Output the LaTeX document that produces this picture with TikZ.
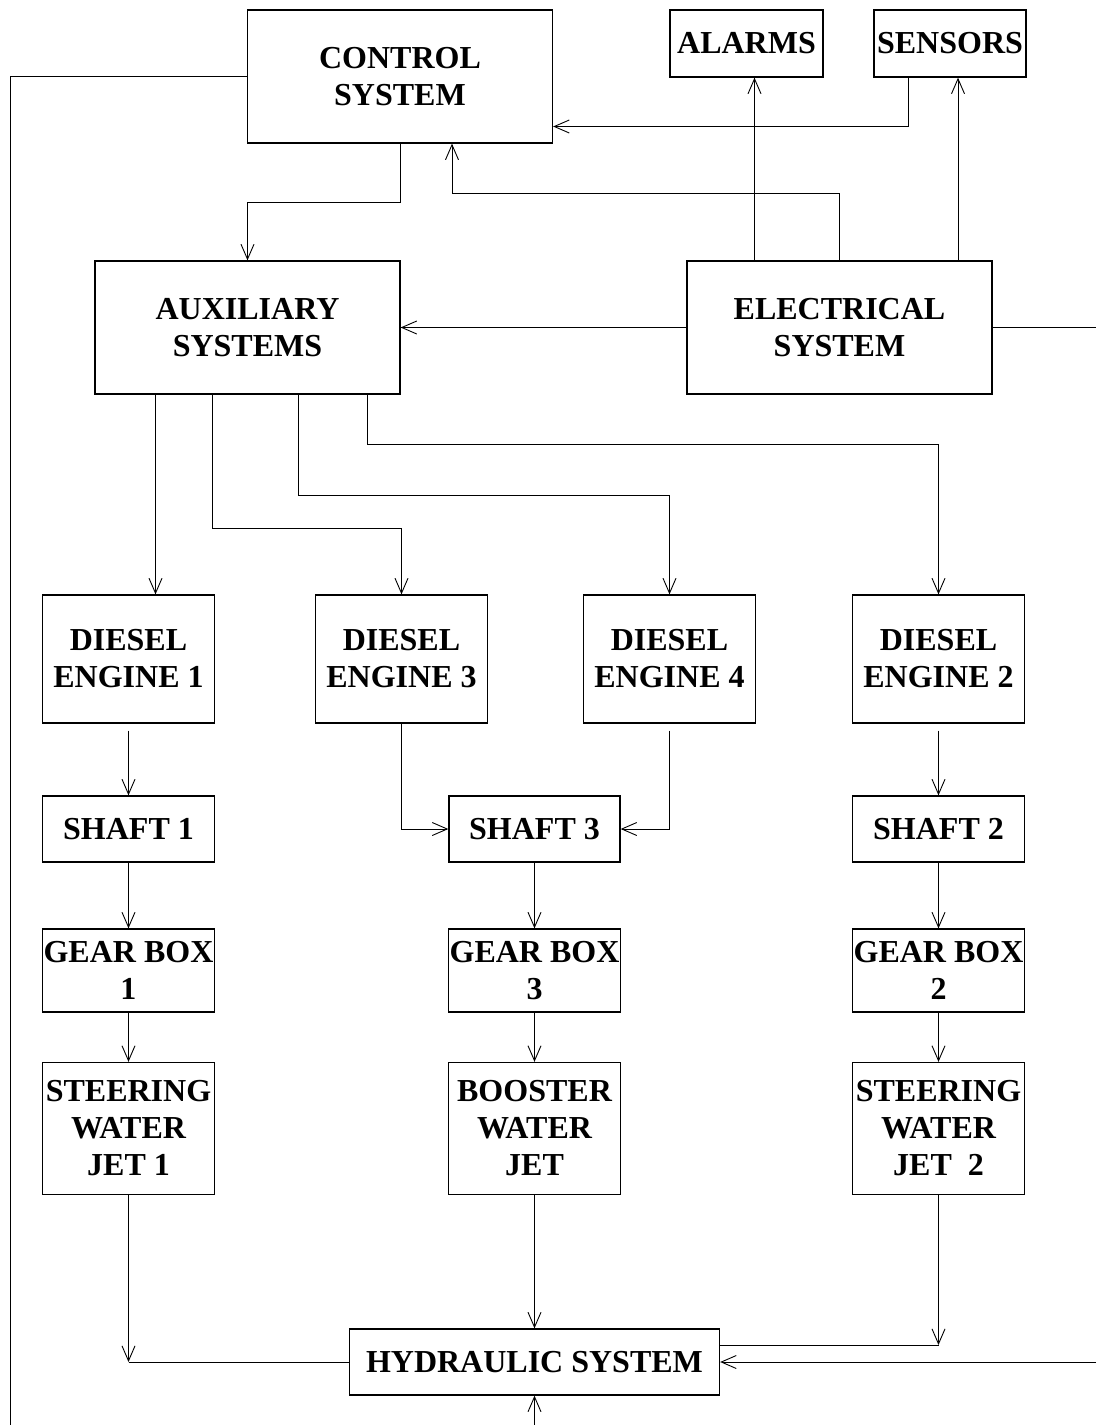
\documentclass[tikz,border=0pt]{standalone}
\usepackage{fontspec}
\setmainfont{Liberation Serif}
\usetikzlibrary{arrows.meta, positioning, calc}

\begin{document}
\begin{tikzpicture}[
          x=1pt, y=-1pt,
          box/.style={draw=black, line width=1.3pt, align=center, inner sep=0pt,
                      font=\fontsize{32}{37}\selectfont\bfseries,
                      minimum width=172pt, minimum height=128pt},
          wide/.style={box, minimum width=305pt, minimum height=133pt},
          small/.style={box, minimum height=66pt},
          arr/.style={-{Straight Barb[length=15pt,width=13pt]}, line width=0.9pt},
          link/.style={line width=0.9pt}
        ]
        \useasboundingbox (0,0) rectangle (1096,1425);
        % top row
        \node[wide] (ctrl) at (400,76.5) {CONTROL\\SYSTEM};
        \node[small, minimum width=153pt, minimum height=67pt] (alarms) at (746.5,43.5) {ALARMS};
        \node[small, minimum width=152pt, minimum height=67pt] (sensors) at (950,43.5) {SENSORS};
        \node[wide] (aux) at (247.5,327.5) {AUXILIARY\\SYSTEMS};
        \node[wide] (elec) at (839.5,327.5) {ELECTRICAL\\SYSTEM};
        % engines
        \node[box] (de1) at (128.5,659) {DIESEL\\ENGINE 1};
        \node[box] (de3) at (401.5,659) {DIESEL\\ENGINE 3};
        \node[box] (de4) at (669.5,659) {DIESEL\\ENGINE 4};
        \node[box] (de2) at (938.5,659) {DIESEL\\ENGINE 2};
        % shafts, gear boxes, jets
        \node[small] (sh1) at (128.5,829) {SHAFT 1};
        \node[small, minimum width=171pt] (sh3) at (534.5,829) {SHAFT 3};
        \node[small] (sh2) at (938.5,829) {SHAFT 2};
        \node[box, minimum height=83pt] (gb1) at (128.5,970.5) {GEAR BOX\\1};
        \node[box, minimum height=83pt] (gb3) at (534.5,970.5) {GEAR BOX\\3};
        \node[box, minimum height=83pt] (gb2) at (938.5,970.5) {GEAR BOX\\2};
        \node[box, minimum height=132pt] (wj1) at (128.5,1128.5) {STEERING\\WATER\\JET 1};
        \node[box, minimum height=132pt] (bwj) at (534.5,1128.5) {BOOSTER\\WATER\\JET};
        \node[box, minimum height=132pt] (wj2) at (938.5,1128.5) {STEERING\\WATER\\JET\ \ 2};
        \node[small, minimum width=370pt] (hyd) at (534.5,1362) {HYDRAULIC SYSTEM};
        % free ends
        \coordinate (fbtop) at (10,76.5);
        \coordinate (fbbot) at (10,1425);
        \coordinate (eout) at (1096,327.5);
        \coordinate (hin) at (1096,1362);
        \coordinate (hbot) at (534.5,1425);
        \coordinate (hydne) at ([yshift=17pt]hyd.east);
        \coordinate (wjc1) at (wj1.south |- hyd.west);
        \coordinate (wjc2) at (wj2.south |- hydne);

        \draw[arr] (ctrl.south) -- ++(0,59) -| (aux.north);
        \draw[arr] (elec.west) -- (aux.east);
        \draw[arr] (elec.north) -- ++(0,-67) -| ([xshift=52pt]ctrl.south);
        \draw[arr] ([xshift=8pt]alarms.south |- elec.north) -- ([xshift=8pt]alarms.south);
        \draw[arr] ([xshift=8pt]sensors.south |- elec.north) -- ([xshift=8pt]sensors.south);
        \draw[arr] ([xshift=-42pt]sensors.south) |- ([yshift=-50pt]ctrl.east);
        \draw[link] (ctrl.west) -| (fbbot);
        \draw[link] (elec.east) -- (eout);

        \draw[arr] ([xshift=-92pt]aux.south) -- ([xshift=-92pt]aux.south |- de1.north);
        \draw[arr] ([xshift=-35pt]aux.south) -- ++(0,134) -| (de3.north);
        \draw[arr] ([xshift=51pt]aux.south) -- ++(0,101) -| (de4.north);
        \draw[arr] ([xshift=120pt]aux.south) -- ++(0,50) -| (de2.north);

        \draw[arr] ([yshift=-7pt]de1.south) -- (sh1.north);
        \draw[arr] (de3.south) |- (sh3.west);
        \draw[arr] ([yshift=-7pt]de4.south) |- (sh3.east);
        \draw[arr] ([yshift=-7pt]de2.south) -- (sh2.north);

        \draw[arr] (sh1.south) -- (gb1.north);
        \draw[arr] (sh3.south) -- (gb3.north);
        \draw[arr] (sh2.south) -- (gb2.north);
        \draw[arr] (gb1.south) -- (wj1.north);
        \draw[arr] (gb3.south) -- (bwj.north);
        \draw[arr] (gb2.south) -- (wj2.north);

        \draw[arr] (wj1.south) -- (wjc1);
        \draw[link] (wjc1) -- (hyd.west);
        \draw[arr] (bwj.south) -- (hyd.north);
        \draw[arr] (wj2.south) -- (wjc2);
        \draw[link] (wjc2) -- (hydne);
        \draw[arr] (hin) -- (hyd.east);
        \draw[arr] (hbot) -- (hyd.south);
      \end{tikzpicture}
\end{document}
